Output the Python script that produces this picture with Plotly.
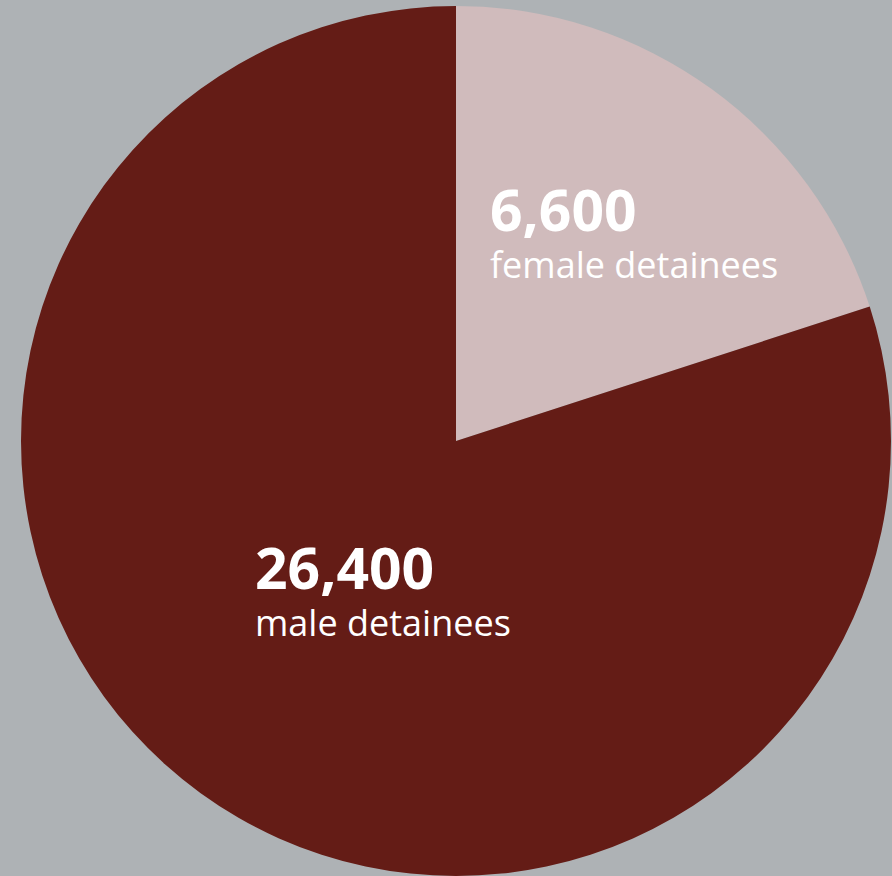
import plotly.graph_objects as go

labels = ["female detainees", "male detainees"]
values = [6600, 26400]
value_text = ["6,600", "26,400"]
colors = ["#d0bbbc", "#641c16"]

W, H = 892, 876
cx, cy, r = 456, 441, 435

fig = go.Figure(go.Pie(
    labels=labels,
    values=values,
    sort=False,
    direction="clockwise",
    rotation=0,
    marker=dict(colors=colors, line=dict(width=0)),
    textinfo="none",
    hoverinfo="label+value",
    showlegend=False,
    domain=dict(x=[(cx - r) / W, (cx + r) / W], y=[1 - (cy + r) / H, 1 - (cy - r) / H]),
))

label_pos = [(488, 168), (253, 526)]
for (x, ytop), vt, lab in zip(label_pos, value_text, labels):
    fig.add_annotation(x=x / W, y=1 - ytop / H, xref="paper", yref="paper",
                       xanchor="left", yanchor="top", align="left", showarrow=False,
                       text=f"<span style='font-size:57px'><b>{vt}</b></span><br>{lab}",
                       font=dict(family="Open Sans", size=36, color="white"))

fig.update_layout(
    width=W, height=H,
    margin=dict(l=0, r=0, t=0, b=0),
    paper_bgcolor="#aeb2b5",
    plot_bgcolor="#aeb2b5",
)

fig.write_html("out.html",
               config={"displayModeBar": False},
               post_script="document.body.style.margin='0';document.body.style.background='#aeb2b5';")
